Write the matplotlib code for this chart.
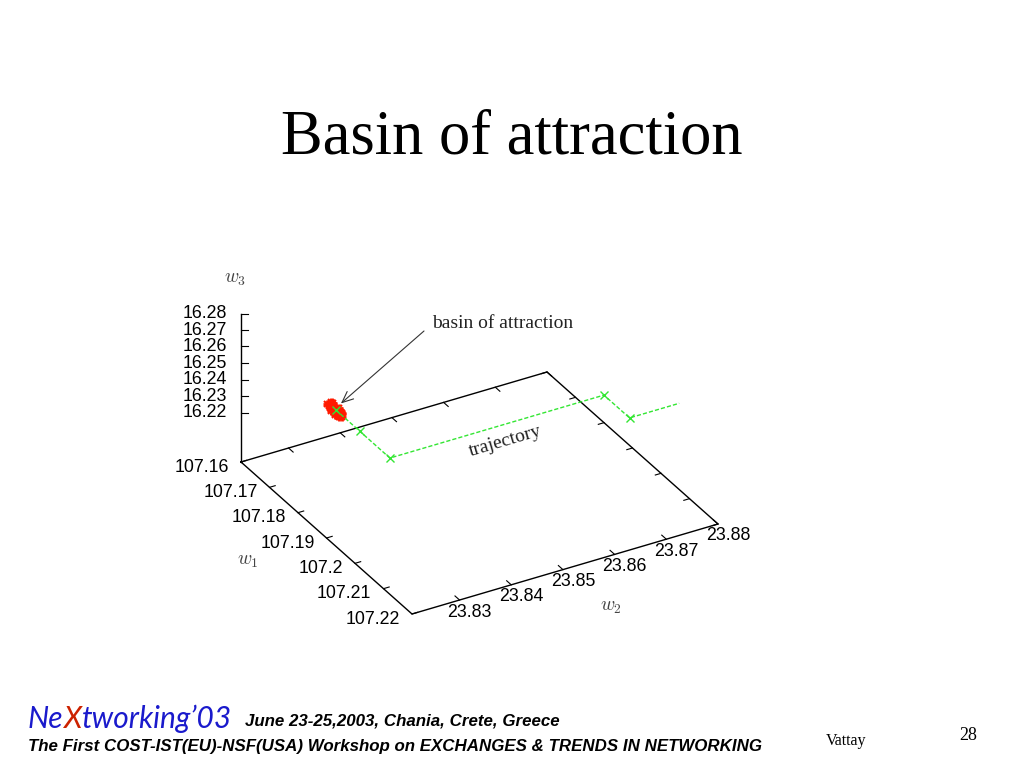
import matplotlib
matplotlib.use("Agg")
import matplotlib.pyplot as plt
import numpy as np

# axis ranges of the gnuplot box
w1_range = [107.16, 107.22]
w2_range = [23.8208, 23.88]
w3_base = 16.19
w3_top = 16.28

w1_ticks = [107.16, 107.17, 107.18, 107.19, 107.20, 107.21, 107.22]
w1_labels = ["107.16", "107.17", "107.18", "107.19", "107.2", "107.21", "107.22"]
w2_ticks = [23.83, 23.84, 23.85, 23.86, 23.87, 23.88]
w2_labels = ["23.83", "23.84", "23.85", "23.86", "23.87", "23.88"]
w3_ticks = [16.22, 16.23, 16.24, 16.25, 16.26, 16.27, 16.28]
w3_labels = ["16.22", "16.23", "16.24", "16.25", "16.26", "16.27", "16.28"]

# trajectory (last point has no marker)
traj_w1 = [107.1675, 107.1760, 107.1865, 107.1865, 107.1955, 107.1955]
traj_w2 = [23.8350, 23.8350, 23.8350, 23.8764, 23.8764, 23.8860]
traj_w3 = [16.22, 16.22, 16.22, 16.22, 16.22, 16.22]

# points of the basin of attraction
basin_w1 = [107.1650, 107.1654, 107.1658, 107.1661, 107.1664, 107.1667, 107.1670,
            107.1673, 107.1676, 107.1679, 107.1682, 107.1685, 107.1688, 107.1692,
            107.1696, 107.1700, 107.1652, 107.1660, 107.1668, 107.1677, 107.1684,
            107.1693, 107.1657, 107.1672, 107.1687]
basin_w2 = [23.8347, 23.8352, 23.8349, 23.8353, 23.8346, 23.8351, 23.8348,
            23.8354, 23.8350, 23.8347, 23.8352, 23.8349, 23.8353, 23.8347,
            23.8351, 23.8349, 23.8350, 23.8348, 23.8352, 23.8346, 23.8350,
            23.8353, 23.8351, 23.8349, 23.8348]
basin_w3 = [16.2200, 16.2215, 16.2185, 16.2220, 16.2180, 16.2210, 16.2225,
            16.2190, 16.2200, 16.2178, 16.2218, 16.2195, 16.2207, 16.2185,
            16.2212, 16.2198, 16.2190, 16.2203, 16.2188, 16.2222, 16.2176,
            16.2202, 16.2212, 16.2182, 16.2216]

# projection of the 3d box onto the page (pixel units of the slide)
origin = np.array([241.0, 462.0])
e1 = np.array([171.0, 152.0]) / (w1_range[1] - w1_range[0])
e2 = np.array([306.0, -90.0]) / (w2_range[1] - w2_range[0])
e3 = np.array([0.0, -16.5]) / 0.01


def proj(w1, w2, w3):
    w1 = np.atleast_1d(np.asarray(w1, float))
    w2 = np.atleast_1d(np.asarray(w2, float))
    w3 = np.atleast_1d(np.asarray(w3, float))
    p = (origin[:, None] + np.outer(e1, w1 - w1_range[0])
         + np.outer(e2, w2 - w2_range[0])
         + np.outer(e3, w3 - w3_base))
    return p[0], p[1]


serif = "Liberation Serif"
sans = "Liberation Sans"
plt.rcParams["mathtext.fontset"] = "cm"
tick_fs = 12.8

fig = plt.figure(figsize=(10.24, 7.68), dpi=100)
ax = fig.add_axes([0, 0, 1, 1])
ax.set_xlim(0, 1024)
ax.set_ylim(768, 0)
ax.axis("off")

ax.text(512, 138, "Basin of attraction", family=serif, fontsize=45,
        ha="center", va="center")

# base plane of the box
a, b = w1_range
c, d = w2_range
bx, by = proj([a, b, b, a, a], [c, c, d, d, c], [w3_base] * 5)
ax.plot(bx, by, color="black", lw=1)
# vertical axis
zx, zy = proj([a, a], [c, c], [w3_base, w3_top])
ax.plot(zx, zy, color="black", lw=1)

tick_len1 = 0.0016
tick_len2 = 0.0011
for v, lab in zip(w1_ticks, w1_labels):
    tx, ty = proj([v, v], [c, c + tick_len2], [w3_base, w3_base])
    ax.plot(tx, ty, color="black", lw=0.8)
    tx, ty = proj([v, v], [d, d - tick_len2], [w3_base, w3_base])
    ax.plot(tx, ty, color="black", lw=0.8)
    lx, ly = proj(v, c, w3_base)
    ax.text(lx[0] - 12, ly[0] + 5, lab, family=sans, fontsize=tick_fs,
            ha="right", va="center")

for v, lab in zip(w2_ticks, w2_labels):
    tx, ty = proj([b, b - tick_len1], [v, v], [w3_base, w3_base])
    ax.plot(tx, ty, color="black", lw=0.8)
    tx, ty = proj([a, a + tick_len1], [v, v], [w3_base, w3_base])
    ax.plot(tx, ty, color="black", lw=0.8)
    lx, ly = proj(b, v, w3_base)
    ax.text(lx[0] + 10, ly[0] + 12, lab, family=sans, fontsize=tick_fs,
            ha="center", va="center")

for v, lab in zip(w3_ticks, w3_labels):
    lx, ly = proj(a, c, v)
    ax.plot([lx[0], lx[0] + 7], [ly[0], ly[0]], color="black", lw=0.8)
    ax.text(lx[0] - 14, ly[0], lab, family=sans, fontsize=tick_fs,
            ha="right", va="center")

ax.text(235, 278, r"$w_3$", fontsize=14, color="#444444", ha="center", va="center")
ax.text(248, 560, r"$w_1$", fontsize=14, color="#444444", ha="center", va="center")
ax.text(611, 607, r"$w_2$", fontsize=14, color="#444444", ha="center", va="center")

# basin points
px, py = proj(basin_w1, basin_w2, basin_w3)
ax.plot(px, py, ls="none", marker="+", ms=6, mew=2, color="#ff1a00")
ax.plot(px, py, ls="none", marker="x", ms=5, mew=1.5, color="#ff1a00")

# trajectory
tx, ty = proj(traj_w1, traj_w2, traj_w3)
ax.plot(tx, ty, color="#33e633", lw=1, dashes=(3, 1.5), marker="x", ms=5.5,
        mew=1, markevery=[0, 1, 2, 3, 4])

ax.text(505, 441, "trajectory", family=serif, fontsize=14, rotation=16.4,
        ha="center", va="center", color="#222222", rotation_mode="anchor")

# arrow to the basin
tipx, tipy = proj(107.1675, 23.836, 16.223)
ax.annotate("", xy=(tipx[0], tipy[0]), xytext=(424, 331),
            arrowprops=dict(arrowstyle="->,head_length=0.8,head_width=0.35",
                            lw=0.8, color="#333333", shrinkA=0, shrinkB=0))
ax.text(432, 323, "basin of attraction", family=serif, fontsize=14,
        ha="left", va="center", color="#222222")

# footer
t1 = ax.text(28, 728, "Ne", family="Lato", style="italic", fontsize=21.5,
             color="#1a1acc", ha="left", va="baseline")
t2 = ax.annotate("X", xy=(1, 0), xycoords=t1, family="Lato", style="italic",
                 fontsize=21.5, color="#cc2200", ha="left", va="bottom")
ax.annotate("tworking\u201903", xy=(1, 0), xycoords=t2, family="Lato",
            style="italic", fontsize=21.5, color="#1a1acc", ha="left", va="bottom")
ax.text(245, 721, "June 23-25,2003, Chania, Crete, Greece", family=sans,
        style="italic", weight="bold", fontsize=12.2, ha="left", va="center")
ax.text(28, 746, "The First COST-IST(EU)-NSF(USA) Workshop on EXCHANGES & TRENDS IN NETWORKING",
        family=sans, style="italic", weight="bold", fontsize=12.2, ha="left", va="center")
ax.text(826, 741, "Vattay", family=serif, fontsize=11.5, ha="left", va="center")
ax.text(968, 735, "28", family=serif, fontsize=13, ha="center", va="center")

fig.savefig("out.png", dpi=100)
